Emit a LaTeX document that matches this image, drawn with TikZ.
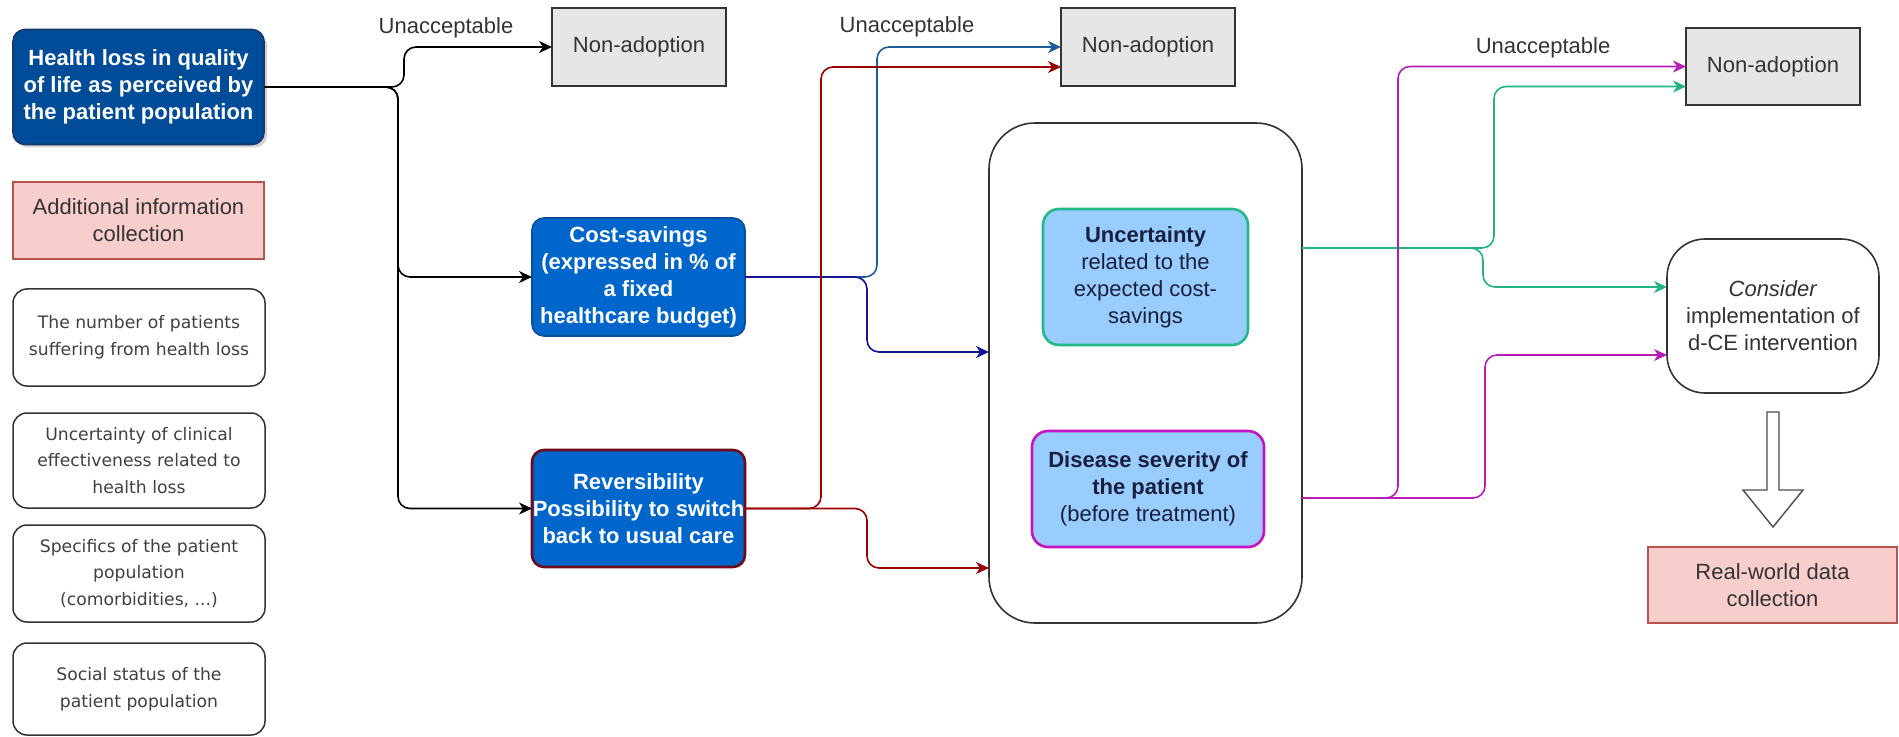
\documentclass[tikz,border=0pt]{standalone}
\usepackage{fontspec}
\setmainfont{Liberation Sans}
\newfontfamily\smallfont{DejaVu Sans}
\usetikzlibrary{arrows.meta,calc,shadows}
\definecolor{txt}{HTML}{333333}
\definecolor{hblue}{HTML}{004C99}
\definecolor{hbord}{HTML}{16386A}
\definecolor{cblue}{HTML}{0066CC}
\definecolor{cbord}{HTML}{0A4E96}
\definecolor{rbord}{HTML}{6F0A1A}
\definecolor{lblue}{HTML}{99CCFF}
\definecolor{ubord}{HTML}{22B888}
\definecolor{dbord}{HTML}{C412C4}
\definecolor{navytxt}{HTML}{1A1F3D}
\definecolor{pinkf}{HTML}{F8CECC}
\definecolor{pinkd}{HTML}{B85450}
\definecolor{greyf}{HTML}{E6E6E6}
\definecolor{lnblue}{HTML}{1F5D99}
\definecolor{lnnavy}{HTML}{15159A}
\definecolor{lnred}{HTML}{990000}
\definecolor{lngreen}{HTML}{22B582}
\definecolor{lnmag}{HTML}{B81CB8}
\begin{document}
\begin{tikzpicture}[x=0.5pt,y=-0.5pt,
  every node/.style={inner sep=0pt, outer sep=0pt, align=center, text=txt,
    font=\fontsize{11}{13.5}\selectfont},
  bluebox/.style={rounded corners=6pt, text=white, font=\fontsize{11}{13.5}\selectfont\bfseries},
  infobox/.style={draw=txt, line width=0.75pt, fill=white, rounded corners=7pt,
    minimum width=126pt, text=black!75, font=\smallfont\fontsize{8.6}{13.3}\selectfont},
  pinkbox/.style={draw=pinkd, line width=0.6pt, fill=pinkf},
  greybox/.style={draw=txt, line width=0.75pt, fill=greyf, minimum width=87pt, minimum height=39pt},
  lightbox/.style={fill=lblue, rounded corners=8pt, line width=1.3pt, text=navytxt},
  conn/.style={line width=0.8pt, rounded corners=6pt, -{Stealth[length=6.5pt,width=6pt,inset=2pt]}},
  lbl/.style={font=\fontsize{11}{13.5}\selectfont}
]
\useasboundingbox (0,0) rectangle (1899,737);

% left column
\node[bluebox, fill=hblue, draw=hbord, line width=0.8pt, minimum width=125.5pt, minimum height=57.5pt,
  drop shadow={shadow xshift=1.5pt, shadow yshift=-1.5pt, opacity=0.35}]
  (H) at (138.5,87) {Health loss in quality\\of life as perceived by\\the patient population};
\node[pinkbox, minimum width=125.5pt, minimum height=38.5pt] (A) at (138.5,220.5)
  {Additional information\\collection};
\node[infobox, minimum height=48.5pt] (W1) at (139,337.5) {The number of patients\\suffering from health loss};
\node[infobox, minimum height=47.5pt] (W2) at (139,460.5) {Uncertainty of clinical\\effectiveness related to\\health loss};
\node[infobox, minimum height=48.5pt] (W3) at (139,573.5) {Specifics of the patient\\population\\(comorbidities, ...)};
\node[infobox, minimum height=46pt] (W4) at (139,689) {Social status of the\\patient population};

% middle
\node[greybox] (N1) at (639,47) {Non-adoption};
\node[greybox] (N2) at (1148,47) {Non-adoption};
\node[greybox, minimum height=38.5pt] (N3) at (1773,66.5) {Non-adoption};

\node[bluebox, fill=cblue, draw=cbord, line width=0.8pt, minimum width=106.5pt, minimum height=59pt]
  (C) at (638.5,277) {Cost-savings\\(expressed in \% of\\a fixed\\healthcare budget)};
\node[bluebox, fill=cblue, draw=rbord, line width=1.3pt, minimum width=106.5pt, minimum height=58.5pt]
  (R) at (638.5,508.5) {Reversibility\\Possibility to switch\\back to usual care};

\node[draw=txt, line width=0.8pt, fill=white, rounded corners=23pt, minimum width=156.5pt, minimum height=250pt]
  (B) at (1145.5,373) {};
\node[lightbox, draw=ubord, minimum width=102.5pt, minimum height=68pt] (U) at (1145.5,277)
  {\textbf{Uncertainty}\\related to the\\expected cost-\\savings};
\node[lightbox, draw=dbord, minimum width=116pt, minimum height=58pt] (D) at (1148,489)
  {\textbf{Disease severity of}\\\textbf{the patient}\\(before treatment)};

% right
\node[draw=txt, line width=0.8pt, fill=white, rounded corners=19pt, minimum width=106pt, minimum height=77pt]
  (K) at (1773,316) {\textit{Consider}\\implementation of\\d-CE intervention};
\node[pinkbox, minimum width=124.5pt, minimum height=38pt] (RW) at (1772.5,585)
  {Real-world data\\collection};

% labels
\node[lbl] (L1) at (446,28) {Unacceptable};
\node[lbl] (L2) at (907,27) {Unacceptable};
\node[lbl] (L3) at (1543,48) {Unacceptable};

% connectors
\draw[conn, black] (H.east) -- ($(H.east)+(140,0)$) |- (N1.west);
\draw[conn, black] (H.east) -- ($(H.east)+(134,0)$) |- (C.west);
\draw[conn, black] (H.east) -- ($(H.east)+(134,0)$) |- (R.west);

\draw[conn, lnblue] (C.east) -- ($(C.east)+(132,0)$) |- (N2.west);
\draw[conn, lnnavy] (C.east) -- ($(C.east)+(122,0)$) |- ($(B.west)+(0,-21)$);
\draw[conn, lnred] (R.east) -- ($(R.east)+(76,0)$) |- ($(N2.west)+(0,20)$);
\draw[conn, lnred] (R.east) -- ($(R.east)+(122,0)$) |- ($(B.west)+(0,195)$);

\coordinate (gout) at ($(B.east)+(0,-125)$);
\coordinate (mout) at ($(B.east)+(0,125)$);
\draw[conn, lngreen] (gout) -- ($(gout)+(192,0)$) |- ($(N3.west)+(0,20)$);
\draw[conn, lngreen] (gout) -- ($(gout)+(181,0)$) |- ($(K.west)+(0,-29)$);
\draw[conn, lnmag] (mout) -- ($(mout)+(96,0)$) |- (N3.west);
\draw[conn, lnmag] (mout) -- ($(mout)+(183,0)$) |- ($(K.west)+(0,39)$);

% block arrow
\draw[draw=black!70, line width=0.7pt, fill=white]
  ($(K.south)+(-6,19)$) -- ($(K.south)+(6,19)$) -- ($(K.south)+(6,97)$) -- ($(K.south)+(30,97)$)
  -- ($(K.south)+(0,134)$) -- ($(K.south)+(-30,97)$) -- ($(K.south)+(-6,97)$) -- cycle;
\end{tikzpicture}
\end{document}
